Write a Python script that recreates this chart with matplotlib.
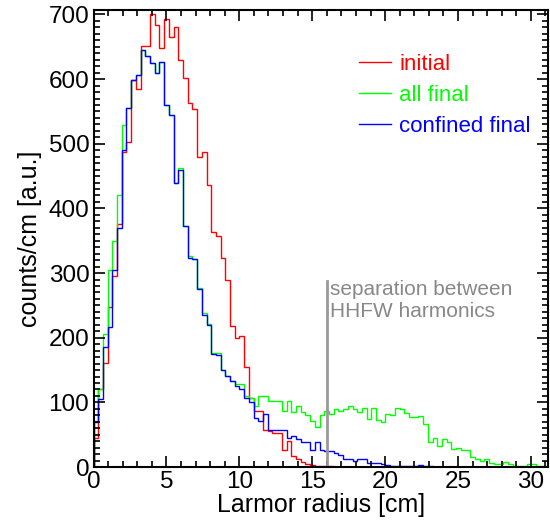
import numpy as np
import matplotlib
matplotlib.use('Agg')
import matplotlib.pyplot as plt
from matplotlib.ticker import MultipleLocator

# histogram bin width in cm
bin_width = 0.323

initial = [45, 120, 161, 247, 296, 376, 487, 503, 598, 585,
           651, 651, 701, 684, 648, 693, 665, 680, 629, 601,
           563, 554, 480, 487, 436, 364, 357, 323, 289, 218,
           199, 203, 154, 107, 87, 87, 58, 56, 53, 53,
           27, 40, 17, 12, 8, 5, 3, 2, 1, 1,
           1, 0.5, 0.5, 0, 0, 0, 0, 0, 0, 0] + [0] * 37

all_final = [71, 120, 205, 304, 350, 420, 529, 556, 599, 607,
             645, 635, 625, 609, 627, 560, 544, 439, 462, 373,
             326, 322, 277, 238, 222, 177, 176, 150, 141, 133,
             128, 128, 110, 107, 95, 110, 110, 102, 102, 102,
             87, 102, 85, 94, 85, 80, 71, 62, 80, 87,
             82, 90, 87, 90, 94, 90, 85, 92, 74, 92,
             72, 70, 82, 81, 92, 90, 83, 77, 77, 79,
             66, 38, 45, 33, 43, 39, 28, 30, 27, 27,
             15, 12, 10, 13, 7, 4, 5, 8, 4, 1,
             1, 1, 4, 4, 1, 1, 1]

confined_final = [69, 106, 186, 217, 304, 370, 491, 556, 599, 607,
                  645, 635, 625, 609, 627, 560, 544, 439, 459, 373,
                  324, 322, 275, 235, 220, 175, 174, 150, 141, 133,
                  125, 120, 107, 100, 76, 71, 82, 58, 58, 58,
                  58, 45, 48, 43, 38, 38, 27, 38, 27, 25,
                  25, 22, 19, 12, 12, 10, 13, 12, 7, 6,
                  7, 5, 3, 2, 2, 1, 1, 1, 1, 3,
                  2, 1, 0.5, 0.5, 0.5, 0.5, 0.5, 0.5, 0, 0] + [0] * 17

separation = 16.0

plt.rcParams['font.family'] = ['Liberation Sans', 'DejaVu Sans']
plt.rcParams['font.size'] = 16

edges = np.arange(len(initial) + 1) * bin_width

fig = plt.figure(figsize=(5.5, 5.23), dpi=100)
ax = fig.add_axes([0.170, 0.107, 0.826, 0.874])

ax.stairs(initial, edges, color='#ff0000', lw=1.0, label='initial')
ax.stairs(all_final, edges, color='#00ff00', lw=1.0, label='all final')
ax.stairs(confined_final, edges, color='#0000ff', lw=1.0, label='confined final')

ax.plot([separation, separation], [0, 288], color='#999999', lw=2)
ax.text(separation + 0.2, 290, 'separation between\nHHFW harmonics',
        color='#888888', fontsize=15, va='top', ha='left', linespacing=1.2)

ax.set_xlim(0, 31.16)
ax.set_ylim(0, 707)
ax.xaxis.set_major_locator(MultipleLocator(5))
ax.xaxis.set_minor_locator(MultipleLocator(1))
ax.yaxis.set_major_locator(MultipleLocator(100))
ax.yaxis.set_minor_locator(MultipleLocator(10))
ax.tick_params(which='both', direction='in', top=True, right=True, width=1.2)
ax.tick_params(which='major', length=8, labelsize=17.5, pad=3)
ax.tick_params(which='minor', length=4)
for s in ax.spines.values():
    s.set_linewidth(1.5)

ax.set_xlabel('Larmor radius [cm]', fontsize=18, labelpad=0)
ax.set_ylabel('counts/cm [a.u.]', fontsize=18, labelpad=5)

leg = ax.legend(loc='upper left', bbox_to_anchor=(0.585, 0.903), frameon=False,
                handlelength=1.45, handletextpad=0.35, labelspacing=0.45,
                borderpad=0, borderaxespad=0, labelcolor='linecolor', fontsize=16)

fig.savefig('out.png', dpi=100)
